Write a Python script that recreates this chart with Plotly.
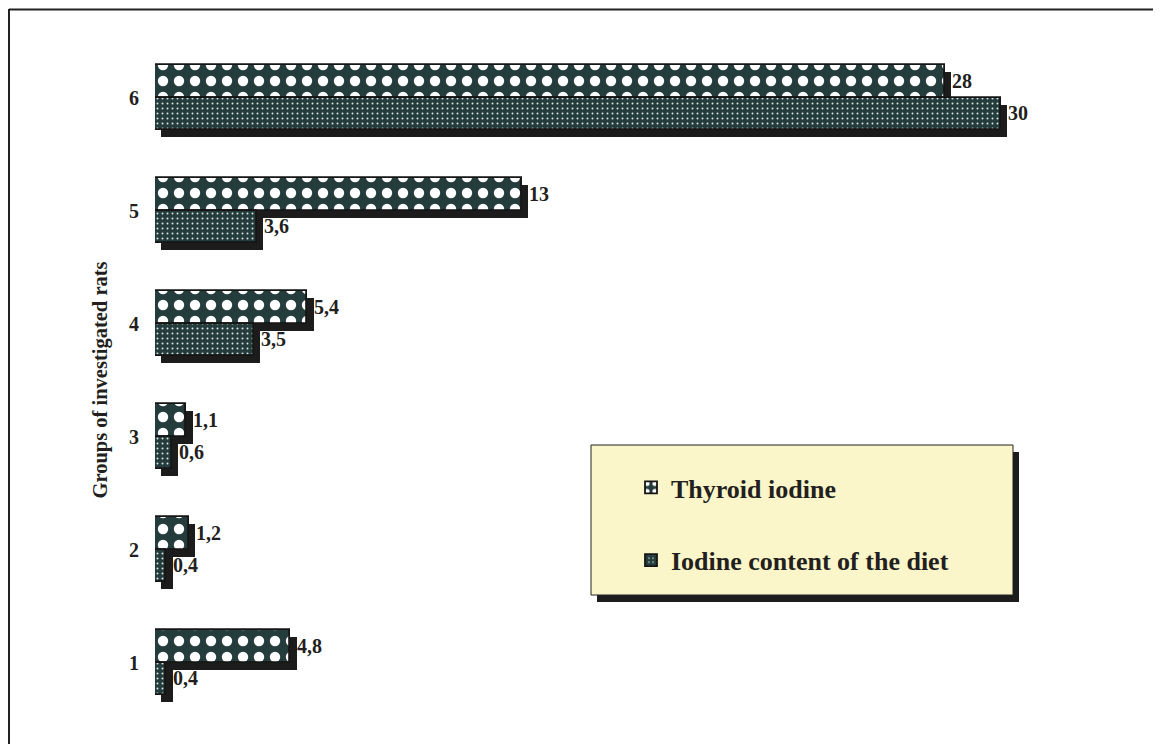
import plotly.graph_objects as go

# ---- data ----
groups = [1, 2, 3, 4, 5, 6]
group_labels = ["1", "2", "3", "4", "5", "6"]
thyroid_iodine = [4.8, 1.2, 1.1, 5.4, 13, 28]
diet_iodine = [0.4, 0.4, 0.6, 3.5, 3.6, 30]
series_names = ["Thyroid iodine", "Iodine content of the diet"]

# ---- layout constants ----
OFF = 8                      # page body margin of the html page
W, H = 1161 - OFF, 744 - OFF
ML, MR, MT, MB = 147, 19, 33, 25
X_MAX = 35
BAR_H = 0.29          # bar thickness in category units
SH_DX = 0.23          # shadow offset (x units)
SH_DY = 0.062         # shadow offset (y units)
DARK = "#243c3c"
SHADOW = "#1c1c1c"
TXT = "#231f20"
FONT = "Liberation Serif"

pw = W - ML - MR
ph = H - MT - MB


def px_x(px):
    """page pixel -> paper x"""
    return (px - OFF - ML) / pw


def px_y(py):
    """page pixel -> paper y"""
    return (H - MB - (py - OFF)) / ph


def fmt(v):
    return "\u00a0" + f"{v:g}".replace(".", ",")


y_thy = [g + BAR_H / 2 for g in groups]
y_diet = [g - BAR_H / 2 for g in groups]

fig = go.Figure()

# shadows
for yy, vals in ((y_thy, thyroid_iodine), (y_diet, diet_iodine)):
    fig.add_trace(go.Bar(
        orientation="h", y=[v - SH_DY for v in yy], x=vals, base=SH_DX,
        width=BAR_H, marker=dict(color=SHADOW, line=dict(width=0)),
        showlegend=False, hoverinfo="skip"))

# main bars
fig.add_trace(go.Bar(
    orientation="h", y=y_thy, x=thyroid_iodine, width=BAR_H,
    name=series_names[0], legendgroup="a",
    marker=dict(color=DARK, line=dict(color="#151515", width=1.8),
                pattern=dict(shape=".", size=16, solidity=0.33,
                             fgcolor="white", bgcolor=DARK, fillmode="replace")),
    text=[fmt(v) for v in thyroid_iodine], textposition="outside",
    textfont=dict(family=FONT, size=20, color=TXT, weight="bold"),
    cliponaxis=False))
fig.add_trace(go.Bar(
    orientation="h", y=y_diet, x=diet_iodine, width=BAR_H,
    name=series_names[1], legendgroup="b",
    marker=dict(color=DARK, line=dict(color="#151515", width=1.8),
                pattern=dict(shape=".", size=5, solidity=0.12,
                             fgcolor="#dde5e5", bgcolor=DARK, fillmode="replace")),
    text=[fmt(v) for v in diet_iodine], textposition="outside",
    textfont=dict(family=FONT, size=20, color=TXT, weight="bold"),
    cliponaxis=False))

shapes = [
    # legend shadow and box
    dict(type="rect", xref="paper", yref="paper",
         x0=px_x(597), x1=px_x(1019), y0=px_y(602), y1=px_y(452),
         fillcolor=SHADOW, line=dict(width=0), layer="above"),
    dict(type="rect", xref="paper", yref="paper",
         x0=px_x(591), x1=px_x(1013), y0=px_y(595), y1=px_y(445),
         fillcolor="#faf6c9", line=dict(color="#222", width=1), layer="above"),
    # outer frame (top and left edges)
    dict(type="line", xref="paper", yref="paper",
         x0=px_x(9), x1=px_x(1170), y0=px_y(9.5), y1=px_y(9.5),
         line=dict(color="#222", width=2)),
    dict(type="line", xref="paper", yref="paper",
         x0=px_x(9), x1=px_x(9), y0=px_y(9), y1=px_y(760),
         line=dict(color="#222", width=2)),
]

fig.update_layout(
    width=W, height=H,
    margin=dict(l=ML, r=MR, t=MT, b=MB),
    paper_bgcolor="white", plot_bgcolor="white",
    barmode="overlay",
    bargap=0,
    shapes=shapes,
    showlegend=True,
    legend=dict(
        x=px_x(631), y=px_y(464), xanchor="left", yanchor="top",
        bgcolor="rgba(0,0,0,0)", borderwidth=0,
        font=dict(family=FONT, size=26, color=TXT, weight="bold"),
        traceorder="grouped", tracegroupgap=36,
    ),
    xaxis=dict(visible=False, range=[0, X_MAX], fixedrange=True),
    yaxis=dict(
        range=[0.5, 6.5], tickvals=groups, ticktext=group_labels,
        showgrid=False, zeroline=False, showline=False,
        ticks="outside", ticklen=11, tickcolor="rgba(0,0,0,0)",
        tickfont=dict(family=FONT, size=20, color=TXT, weight="bold"),
        title=dict(text="Groups of investigated rats", standoff=15,
                   font=dict(family=FONT, size=20.5, color=TXT, weight="bold")),
        automargin=False,
    ),
    font=dict(family=FONT),
)

fig.write_html("out.html")
